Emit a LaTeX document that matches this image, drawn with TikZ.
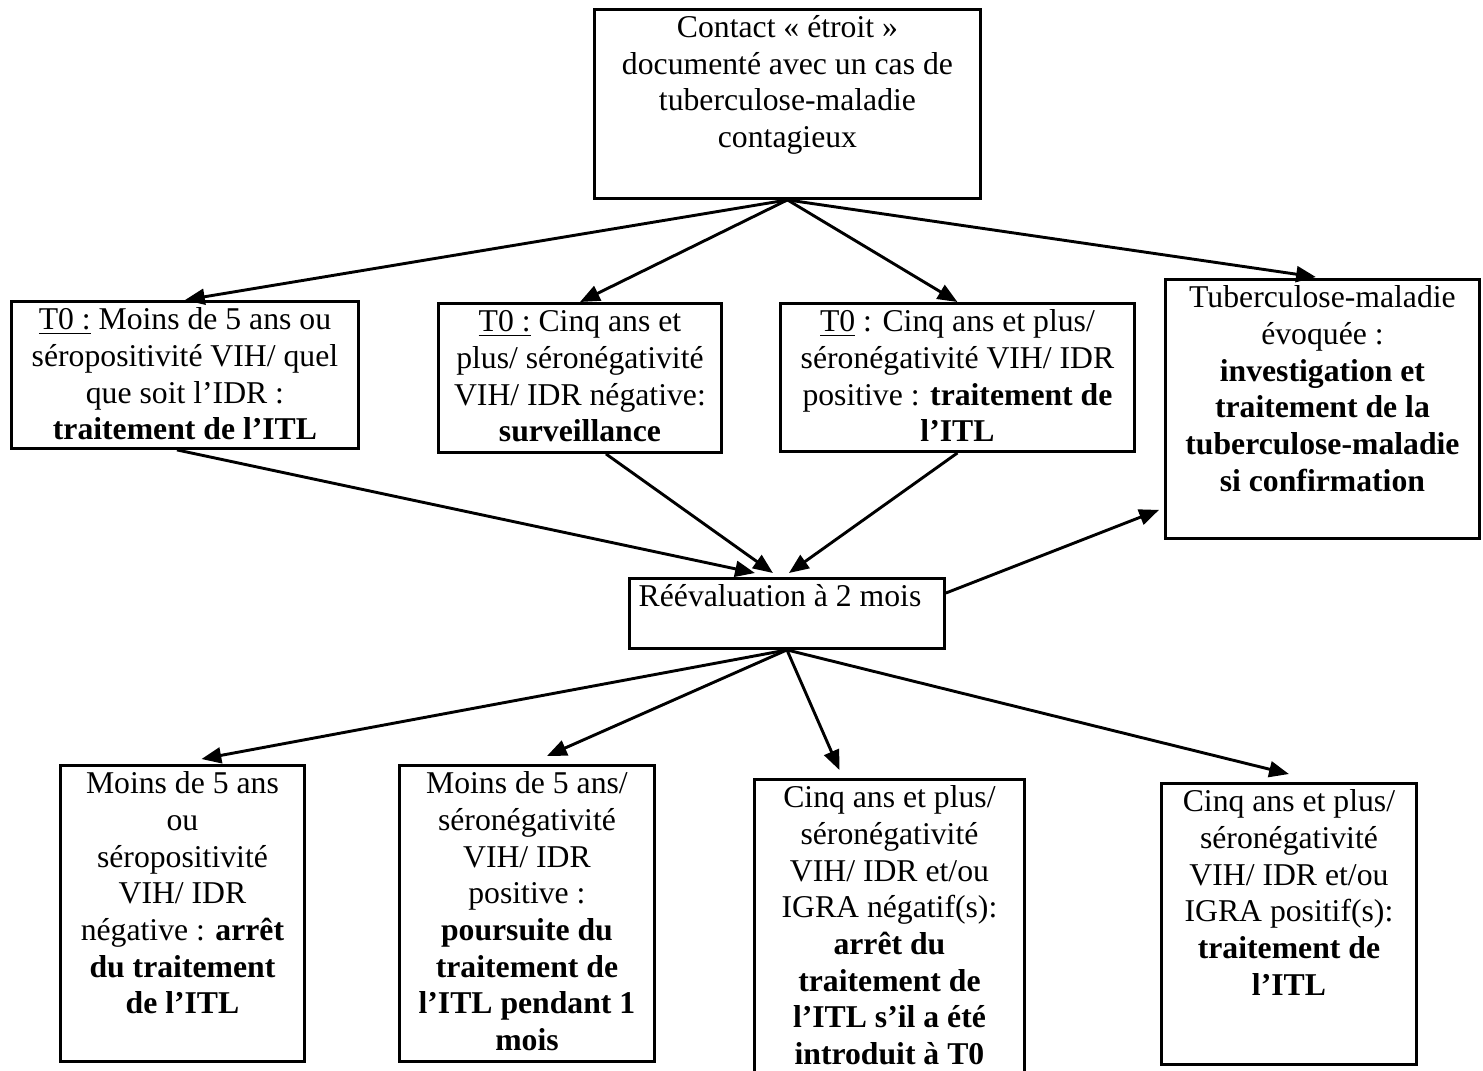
\documentclass[tikz,border=0pt]{standalone}
\usepackage{fontspec}
\setmainfont{Liberation Serif}
\usetikzlibrary{arrows.meta,calc}
\newdimen\px
\px=0.3785pt
% texte en haut de la case
\newcommand{\contenu}[3]{\parbox[c][#2\px][t]{#1\px}{\vspace*{0.9pt}\centering\strut #3}}
\begin{document}
\begin{tikzpicture}[x=0.3785pt, y=-0.3785pt,
  boite/.style={draw, line width=1.1pt, inner sep=0pt, anchor=north west,
    font=\fontsize{12pt}{13.9pt}\selectfont},
  fleche/.style={line width=1.1pt, -{Triangle[length=7.5pt,width=6pt]}}]
  \useasboundingbox (0,0) rectangle (1483,1070);
  % cases
  \node[boite] (contact) at (593,8) {\contenu{386}{189}{Contact « étroit »\\ documenté avec un cas de\\ tuberculose-maladie\\ contagieux}};
  \node[boite] (moinscinq) at (10,300) {\contenu{347}{147}{\underline{T0 :} Moins de 5 ans ou\\ séropositivité VIH/ quel\\ que soit l’IDR :\\ \textbf{traitement de l’ITL}}};
  \node[boite] (surveillance) at (437,302) {\contenu{283}{149}{\underline{T0 :} Cinq ans et\\ plus/ séronégativité\\ VIH/ IDR négative:\\ \textbf{surveillance}}};
  \node[boite] (cinqplus) at (779,302) {\contenu{354}{148}{\underline{T0} : Cinq ans et plus/\\ séronégativité VIH/ IDR\\ positive : \textbf{traitement de}\\ \textbf{l’ITL}}};
  \node[boite] (tbmaladie) at (1164,278) {\contenu{314}{259}{Tuberculose-maladie\\ évoquée :\\ \textbf{investigation et}\\ \textbf{traitement de la}\\ \textbf{tuberculose-maladie}\\ \textbf{si confirmation}}};
  \node[boite] (reevaluation) at (628,577) {\contenu{315}{70}{\raggedright\hspace*{3.5pt}Réévaluation à 2 mois}};
  \node[boite] (arret) at (59,764) {\contenu{244}{296}{Moins de 5 ans\\ ou\\ séropositivité\\ VIH/ IDR\\ négative : \textbf{arrêt}\\ \textbf{du traitement}\\ \textbf{de l’ITL}}};
  \node[boite] (poursuite) at (398,764) {\contenu{255}{296}{Moins de 5 ans/\\ séronégativité\\ VIH/ IDR\\ positive :\\ \textbf{poursuite du}\\ \textbf{traitement de}\\ \textbf{l’ITL pendant 1}\\ \textbf{mois}}};
  \node[boite] (arretintro) at (753,778) {\contenu{270}{310}{Cinq ans et plus/\\ séronégativité\\ VIH/ IDR et/ou\\ IGRA négatif(s):\\ \textbf{arrêt du}\\ \textbf{traitement de}\\ \textbf{l’ITL s’il a été}\\ \textbf{introduit à T0}}};
  \node[boite] (traitement) at (1160,782) {\contenu{255}{281}{Cinq ans et plus/\\ séronégativité\\ VIH/ IDR et/ou\\ IGRA positif(s):\\ \textbf{traitement de}\\ \textbf{l’ITL}}};
  % fleches
  \draw[fleche] (contact.south) -- (moinscinq.north);
  \draw[fleche] (contact.south) -- (surveillance.north);
  \draw[fleche] (contact.south) -- (cinqplus.north);
  \draw[fleche, shorten >=2.5pt] (contact.south) -- (tbmaladie.north);
  \draw[fleche] ($(moinscinq.south)+(-8,0)$) -- ($(reevaluation.north)+(-32,-4)$);
  \draw[fleche] ($(surveillance.south)+(26,0)$) -- ($(reevaluation.north)+(-14,-4)$);
  \draw[fleche] (cinqplus.south) -- ($(reevaluation.north)+(2,-4)$);
  \draw[fleche] ($(reevaluation.north east)+(0,16)$) -- ($(tbmaladie.south west)+(-5,-30)$);
  \draw[fleche] (reevaluation.south) -- ($(arret.north)+(19,-5)$);
  \draw[fleche] (reevaluation.south) -- ($(poursuite.north)+(20,-8)$);
  \draw[fleche] (reevaluation.south) -- ($(arretintro.north)+(-50,-8)$);
  \draw[fleche] (reevaluation.south) -- ($(traitement.north)+(0,-8)$);
\end{tikzpicture}
\end{document}
